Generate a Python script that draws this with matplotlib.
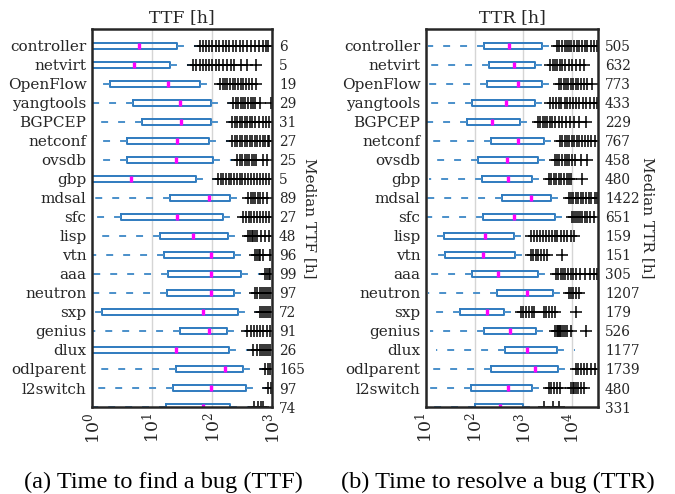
import matplotlib.pyplot as plt

plt.rcParams['font.family'] = 'DejaVu Serif'
plt.rcParams['mathtext.fontset'] = 'dejavuserif'
plt.rcParams['lines.scale_dashes'] = False

projects = ['controller', 'netvirt', 'OpenFlow', 'yangtools', 'BGPCEP', 'netconf', 'ovsdb',
            'gbp', 'mdsal', 'sfc', 'lisp', 'vtn', 'aaa', 'neutron', 'sxp', 'genius', 'dlux',
            'odlparent', 'l2switch']

# TTF stats in hours (20 rows, the last one is cut by the axis)
ttf_low = [0.1, 0.1, 1.45, 0.1, 1.3, 0.1, 0.1, 0.1, 0.1, 1.12, 1.3, 0.1, 0.1, 0.1, 1.12, 0.1, 0.1, 1.3, 1.17, 0.1]
ttf_q1 = [0.5, 0.5, 2.0, 4.9, 6.9, 3.9, 3.9, 0.5, 19.7, 3.0, 13.4, 15.8, 18.7, 17.8, 1.49, 29.7, 0.5, 25.4, 22.7, 17]
ttf_med = [6.0, 4.95, 18.7, 28.9, 30.4, 26.4, 24.8, 4.4, 88, 26.4, 47.6, 95, 97.5, 96, 71.7, 89, 25.1, 163, 96, 72]
ttf_q3 = [25.8, 20, 64, 97.5, 95, 89, 102, 54, 197, 151, 182, 236, 308, 236, 271, 175, 192, 333, 369, 200]
ttf_high = [60, 46, 130, 220, 210, 210, 255, 122, 390, 320, 390, 505, 740, 505, 610, 380, 475, 740, 850, 480]
ttf_fliers = [
    [62, 70, 80, 90, 100, 115, 130, 150, 170, 195, 220, 250, 290, 330, 380, 450, 520, 600, 700, 800, 870],
    [48, 55, 62, 70, 80, 90, 100, 115, 130, 150, 175, 205, 230, 300, 385, 550],
    [135, 150, 165, 180, 200, 220, 245, 270, 300, 330, 370, 410, 460, 550],
    [227, 250, 275, 300, 330, 360, 400, 440, 480, 520, 630, 950],
    [218, 240, 265, 290, 320, 350, 390, 430, 470, 520, 600, 700, 800, 900],
    [218, 240, 265, 290, 320, 350, 390, 430, 470, 520, 570, 630, 700, 770, 850, 900],
    [265, 290, 320, 350, 385, 420, 460, 500, 550, 720, 815],
    [127, 140, 155, 170, 190, 210, 235, 260, 290, 320, 360, 400, 450, 500, 560, 640, 720, 800, 880],
    [400, 440, 480, 520, 580, 640, 720, 815],
    [333, 370, 410, 450, 500, 560, 620, 700, 780, 900],
    [400, 430, 460, 490, 520, 560, 650, 750, 880],
    [522, 560, 600, 640, 700, 920],
    [760, 820, 880, 920],
    [522, 570, 620, 680, 740, 800, 870, 920],
    [630, 680, 740, 800, 860, 920],
    [390, 440, 500, 560, 640, 720, 820, 920],
    [490, 560, 620, 680, 740, 800, 870, 920],
    [760, 850, 930],
    [870, 950],
    [500, 580, 650, 720],
]
ttf_labels = ['6', '5', '19', '29', '31', '27', '25', '5', '89', '27', '48', '96', '99', '97',
              '72', '91', '26', '165', '97', '74']

# TTR stats in hours
ttr_low = [11, 11, 10.5, 10.5, 10.5, 12.9, 15.8, 11.5, 10.5, 10.5, 15.8, 17, 11, 11, 15, 12, 15.8, 12, 11, 11]
ttr_q1 = [155, 197, 182, 89, 69, 219, 118, 143, 370, 148, 23, 25, 86, 288, 50, 157, 415, 212, 85, 100]
ttr_med = [505, 632, 773, 433, 229, 767, 458, 480, 1422, 651, 159, 151, 305, 1207, 179, 526, 1177, 1739, 480, 331]
ttr_q3 = [2366, 1754, 2444, 1700, 871, 2630, 2000, 1496, 3750, 4400, 656, 665, 2000, 4000, 395, 1810, 5000, 5120, 1496, 1000]
ttr_high = [4900, 3550, 5370, 3550, 1950, 5600, 4360, 3300, 8500, 10000, 1450, 1410, 4680, 8500, 890, 4360, 11700, 12000, 3300, 2500]
ttr_fliers = [
    [4900, 5500, 6200, 7000, 7800, 8700, 9700, 11000, 12500, 14000, 16000, 18000, 20500, 24000, 28000, 33000],
    [3550, 4000, 4500, 5000, 5600, 6300, 7200, 8500, 10000, 12000, 14500, 17400],
    [5400, 6000, 6700, 7500, 8400, 9400, 10500, 12000, 13500, 15000, 17500, 20000, 25600],
    [3550, 4000, 4600, 5300, 6000, 7000, 8000, 9200, 10500, 12000, 14000, 16500, 19500, 23000, 28000, 33000],
    [1950, 2200, 2500, 2800, 3100, 3500, 3900, 4500, 5300, 6300, 7500, 9000, 11000, 14000, 19000],
    [5600, 6300, 7000, 7900, 8800, 9800, 11000, 12500, 14000, 16000, 18000, 21000, 25000, 30000],
    [4360, 4900, 5500, 6200, 7000, 7900, 8800, 10000, 11500, 15000, 20500],
    [3300, 3700, 4200, 4700, 5300, 6000, 6800, 7700, 8800, 9500, 16300],
    [8500, 9500, 10500, 12000, 13500, 15000, 17000, 19000, 22000, 25000, 30000, 33000],
    [10000, 11000, 12000, 13200, 14500, 16000, 18000, 20000, 23000, 28000],
    [1450, 1650, 1900, 2200, 2500, 2900, 3300, 3800, 4400, 5000, 5800, 6800, 8000, 9500, 11000],
    [1420, 1600, 1800, 2000, 2300, 2600, 3000, 6200],
    [4680, 5200, 5800, 6500, 7300, 8200, 9300, 10500, 12000, 14500, 18000, 23000, 28000, 33000],
    [8500, 9500, 10500, 11800, 13800],
    [890, 1000, 1150, 1300, 1500, 1650, 2600, 2900, 3300, 3800, 4500, 12000],
    [4360, 4800, 5100, 5400, 5600, 5900, 6500, 7000, 8000, 9300, 19000],
    [],
    [12000, 13500, 15500, 17500, 20000, 24000, 29000],
    [3300, 3700, 4200, 4800, 5700, 9300, 10500, 11200, 12000, 13000, 15000, 17400],
    [2600, 4000, 5500],
]
ttr_labels = ['505', '632', '773', '433', '229', '767', '458', '480', '1422', '651', '159', '151',
              '305', '1207', '179', '526', '1177', '1739', '480', '331']

TXT = '#262626'


def make_stats(low, q1, med, q3, high, fliers):
    stats = []
    for i in range(len(med)):
        stats.append({'whislo': low[i], 'q1': q1[i], 'med': med[i], 'q3': q3[i],
                      'whishi': high[i], 'fliers': fliers[i]})
    return stats


def draw_panel(ax, stats, xlim, xticks, xlabels, title, med_labels, side_label, side_x):
    ax.bxp(stats, positions=range(1, len(stats) + 1), vert=False, widths=0.34,
           showcaps=False,
           boxprops=dict(color='#2f7bbf', linewidth=1.4),
           whiskerprops=dict(color='#4a8fca', linewidth=1.4, linestyle=(0, (5, 7.2))),
           medianprops=dict(color='#ff00ff', linewidth=2.4),
           flierprops=dict(marker='+', markeredgecolor='black', markersize=8, markeredgewidth=1.1))
    ax.set_xscale('log')
    ax.set_xlim(xlim)
    ax.set_ylim(20, 0.11)
    ax.set_xticks(xticks)
    ax.set_xticklabels(xlabels, rotation=90, fontsize=12.5, color=TXT)
    ax.minorticks_off()
    ax.set_yticks(range(1, len(projects) + 1))
    ax.set_yticklabels(projects, fontsize=11, color=TXT)
    ax.tick_params(length=0, pad=4, colors=TXT)
    ax.grid(axis='x', color='#d5d5d5', linewidth=1)
    ax.set_axisbelow(True)
    ax.set_title(title, fontsize=12.5, color=TXT, pad=5)
    for sp in ax.spines.values():
        sp.set_linewidth(1.8)
        sp.set_color(TXT)

    # median values on the right side
    ax2 = ax.twinx()
    ax2.set_ylim(20, 0.11)
    ax2.set_yticks(range(1, len(med_labels) + 1))
    ax2.set_yticklabels(med_labels, fontsize=9.8, color=TXT)
    ax2.tick_params(length=0, pad=5)
    for sp in ax2.spines.values():
        sp.set_visible(False)
    ax.text(side_x, 0.5, side_label, transform=ax.transAxes, rotation=270,
            ha='center', va='center', fontsize=11, color=TXT)


fig = plt.figure(figsize=(6.75, 4.94), dpi=100)
ax_a = fig.add_axes([0.1363, 0.1761, 0.2667, 0.7652])
ax_b = fig.add_axes([0.6311, 0.1761, 0.2548, 0.7652])

draw_panel(ax_a, make_stats(ttf_low, ttf_q1, ttf_med, ttf_q3, ttf_high, ttf_fliers),
           (1, 1000), [1, 10, 100, 1000], [r'$10^{0}$', r'$10^{1}$', r'$10^{2}$', r'$10^{3}$'],
           'TTF [h]', ttf_labels, 'Median TTF [h]', 1.21)
draw_panel(ax_b, make_stats(ttr_low, ttr_q1, ttr_med, ttr_q3, ttr_high, ttr_fliers),
           (10, 34000), [10, 100, 1000, 10000], [r'$10^{1}$', r'$10^{2}$', r'$10^{3}$', r'$10^{4}$'],
           'TTR [h]', ttr_labels, 'Median TTR [h]', 1.29)

fig.text(0.242, 0.012, '(a) Time to find a bug (TTF)', ha='center', fontsize=17.5,
         family='Liberation Serif')
fig.text(0.738, 0.012, '(b) Time to resolve a bug (TTR)', ha='center', fontsize=17.5,
         family='Liberation Serif')

fig.savefig('out.png', dpi=100)
